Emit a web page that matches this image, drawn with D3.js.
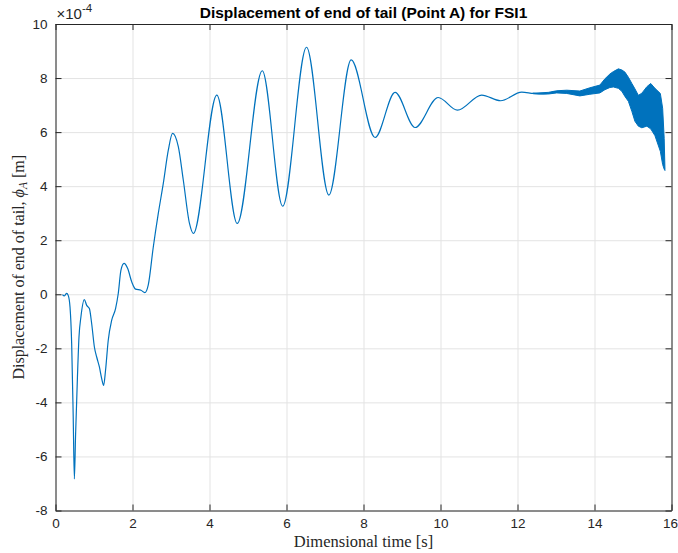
<!DOCTYPE html>
<html><head><meta charset="utf-8">
<script src="https://cdn.jsdelivr.net/npm/d3@7"></script>
<style>
html,body{margin:0;padding:0;background:#fff;}
svg{display:block;}
</style></head>
<body>
<svg id="chart" width="678" height="553"></svg>
<script>
// ---- data (displacement in units of 1e-4 m) ----
const timeS = [0.18,0.23,0.29,0.33,0.377,0.42,0.46,0.49,0.52,0.57,0.61,0.66,0.75,0.81,0.88,0.94,1.01,1.07,1.14,1.20,1.25,1.30,1.37,1.46,1.56,1.63,1.70,1.78,1.875,1.98,2.08,2.22,2.32,2.41,2.54,2.67,2.80,2.93,3.04,3.19,3.32,3.48,3.58,4.19,4.72,5.37,5.90,6.52,7.10,7.68,8.30,8.82,9.34,9.94,10.44,11.07,11.56,12.11,12.41,12.67,13.02,13.28,13.62,13.88];
const dispA = [-0.01,-0.06,0.03,-0.04,-0.47,-1.83,-4.54,-6.83,-5.28,-3.06,-1.58,-0.84,-0.2,-0.41,-0.53,-1.09,-1.95,-2.32,-2.69,-3.12,-3.37,-2.81,-1.70,-0.96,-0.53,0.03,0.89,1.14,0.95,0.46,0.19,0.15,0.06,0.35,1.75,2.99,4.10,5.33,5.95,5.46,4.22,2.62,2.25,7.37,2.62,8.27,3.26,9.14,3.67,8.67,5.80,7.47,6.17,7.28,6.81,7.37,7.16,7.48,7.43,7.41,7.50,7.49,7.43,7.54];
// high-frequency band envelope at the end of the record
const bandT     = [12.40,12.80,13.02,13.28,13.62,13.88,14.14,14.27,14.40,14.49,14.62,14.71,14.79,14.88,14.97,15.05,15.14,15.23,15.36,15.46,15.57,15.71,15.77,15.81,15.83];
const bandUpper = [7.44,7.47,7.53,7.55,7.52,7.64,7.74,7.97,8.15,8.24,8.34,8.30,8.22,8.03,7.80,7.60,7.36,7.44,7.68,7.80,7.62,7.43,6.88,5.77,4.62];
const bandLower = [7.42,7.41,7.45,7.43,7.34,7.40,7.45,7.57,7.65,7.67,7.62,7.51,7.32,7.14,6.77,6.40,6.22,6.16,6.22,6.12,5.87,5.29,4.80,4.63,4.58];
const xTicks = [0,2,4,6,8,10,12,14,16];
const yTicks = [-8,-6,-4,-2,0,2,4,6,8,10];

const titleText = "Displacement of end of tail (Point A) for FSI1";
const xLabel = "Dimensional time [s]";

// ---- layout ----
const L = 55.5, R = 671.5, T = 24, B = 510.5;
const W = R - L, H = B - T;
const axisColor = "#262626", lineColor = "#0072BD", gridColor = "#e3e3e3";
const tickFont = "'Liberation Sans', Arial, Helvetica, sans-serif";
const serif = "'Liberation Serif', 'DejaVu Serif', serif";

const svg = d3.select("#chart");
const x = d3.scaleLinear().domain([0,16]).range([0, W]);
const y = d3.scaleLinear().domain([-8,10]).range([H, 0]);

const g = svg.append("g").attr("transform", `translate(${L},${T})`);

// grid
g.append("g").attr("class","grid")
  .attr("transform", `translate(0,${H})`)
  .call(d3.axisBottom(x).tickValues(xTicks).tickSize(-H).tickFormat(""))
  .call(s => s.select(".domain").remove())
  .call(s => s.selectAll("line").attr("stroke", gridColor).attr("stroke-width",1));
g.append("g").attr("class","grid")
  .call(d3.axisLeft(y).tickValues(yTicks).tickSize(-W).tickFormat(""))
  .call(s => s.select(".domain").remove())
  .call(s => s.selectAll("line").attr("stroke", gridColor).attr("stroke-width",1));

// data
g.append("clipPath").attr("id","clip").append("rect").attr("width",W).attr("height",H);
const pts = timeS.map((t,i)=>[t, dispA[i]]);
const line = d3.line().x(d=>x(d[0])).y(d=>y(d[1])).curve(d3.curveMonotoneX);
g.append("path").datum(pts)
  .attr("d", line).attr("fill","none").attr("stroke",lineColor).attr("stroke-width",1.2)
  .attr("clip-path","url(#clip)");
const bandData = bandT.map((t,i)=>({t, u: bandUpper[i], l: bandLower[i]}));
const area = d3.area().x(d=>x(d.t)).y0(d=>y(d.l)).y1(d=>y(d.u)).curve(d3.curveLinear);
g.append("path").datum(bandData)
  .attr("d", area).attr("fill",lineColor).attr("stroke",lineColor).attr("stroke-width",1)
  .attr("stroke-linejoin","round");

// axes (ticks pointing inward, box on)
function styleAxis(s){
  s.select(".domain").attr("stroke", axisColor).attr("stroke-width",1);
  s.selectAll(".tick line").attr("stroke", axisColor).attr("stroke-width",1);
  s.selectAll(".tick text").attr("fill", axisColor).style("font-family", tickFont).style("font-size","13.5px");
}
const fmt = d => String(d).replace("\u2212","-");
g.append("g").attr("transform", `translate(0,${H})`)
  .call(d3.axisBottom(x).tickValues(xTicks).tickSizeInner(-6).tickSizeOuter(0).tickPadding(8).tickFormat(fmt))
  .call(styleAxis)
  .call(s => s.selectAll(".tick text").filter(d => d === 16).attr("dx", -1.5));
g.append("g")
  .call(d3.axisTop(x).tickValues(xTicks).tickSizeInner(-6).tickSizeOuter(0).tickFormat(""))
  .call(styleAxis);
g.append("g")
  .call(d3.axisLeft(y).tickValues(yTicks).tickSizeInner(-6).tickSizeOuter(0).tickPadding(8).tickFormat(fmt))
  .call(styleAxis);
g.append("g").attr("transform", `translate(${W},0)`)
  .call(d3.axisRight(y).tickValues(yTicks).tickSizeInner(-6).tickSizeOuter(0).tickFormat(""))
  .call(styleAxis);

// exponent label
const ex = svg.append("text").attr("x", L + 1).attr("y", T - 5)
  .attr("fill", axisColor).style("font-family", tickFont).style("font-size","15px");
ex.append("tspan").text("\u00d710");
ex.append("tspan").attr("dy",-7).style("font-size","11.5px").text("-4");

// title
svg.append("text").attr("x", (L+R)/2).attr("y", 18).attr("text-anchor","middle")
  .attr("fill","#000").style("font-family", tickFont).style("font-weight","bold").style("font-size","15.5px")
  .text(titleText);

// x label
svg.append("text").attr("x", (L+R)/2).attr("y", 547).attr("text-anchor","middle")
  .attr("fill", axisColor).style("font-family", serif).style("font-size","16.5px")
  .text(xLabel);

// y label
const yl = svg.append("text").attr("transform", `translate(24,${(T+B)/2}) rotate(-90)`)
  .attr("text-anchor","middle").attr("fill", axisColor).style("font-family", serif).style("font-size","16px");
yl.append("tspan").text("Displacement of end of tail, ");
yl.append("tspan").style("font-style","italic").text("\u03d5");
yl.append("tspan").attr("dy",3).style("font-size","11.5px").style("font-style","italic").text("A");
yl.append("tspan").attr("dy",-3).text(" [m]");
</script>
</body></html>
